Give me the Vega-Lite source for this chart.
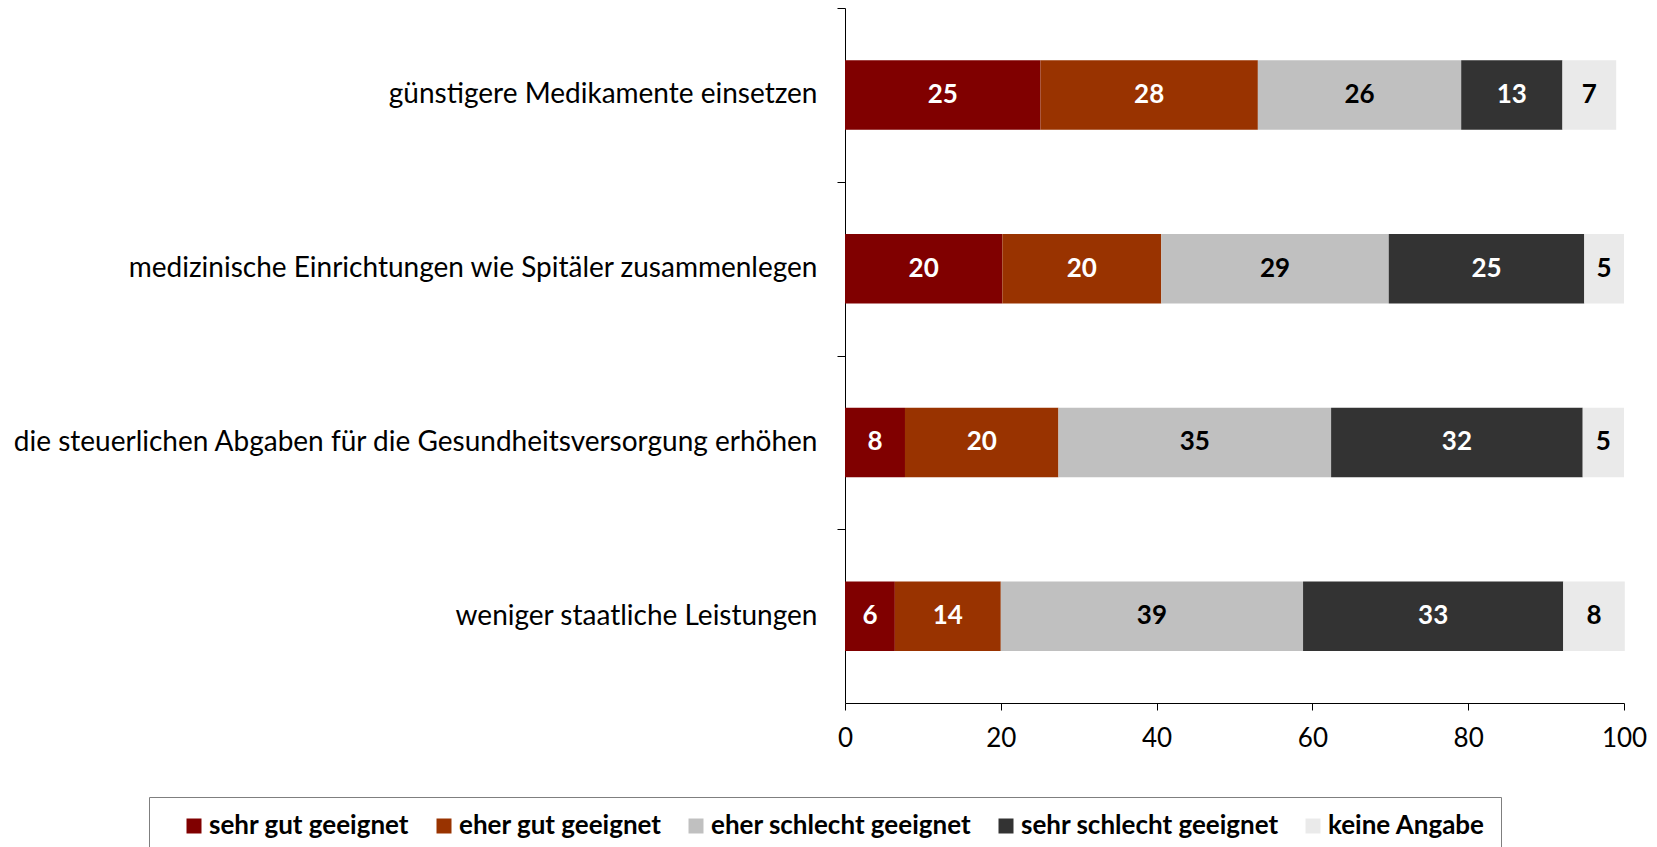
{
  "$schema": "https://vega.github.io/schema/vega-lite/v6.json",
  "width": 779,
  "height": 695,
  "autosize": {"type": "none"},
  "padding": {"left": 845, "top": 8, "right": 33, "bottom": 144},
  "background": "white",
  "config": {"view": {"stroke": null}, "font": "Lato"},
  "data": {
    "values": [
      {"item": "günstigere Medikamente einsetzen", "cat": "sehr gut geeignet", "k": 0, "v": 25.1},
      {"item": "günstigere Medikamente einsetzen", "cat": "eher gut geeignet", "k": 1, "v": 27.9},
      {"item": "günstigere Medikamente einsetzen", "cat": "eher schlecht geeignet", "k": 2, "v": 26.1},
      {"item": "günstigere Medikamente einsetzen", "cat": "sehr schlecht geeignet", "k": 3, "v": 13.0},
      {"item": "günstigere Medikamente einsetzen", "cat": "keine Angabe", "k": 4, "v": 6.9},
      {"item": "medizinische Einrichtungen wie Spitäler zusammenlegen", "cat": "sehr gut geeignet", "k": 0, "v": 20.2},
      {"item": "medizinische Einrichtungen wie Spitäler zusammenlegen", "cat": "eher gut geeignet", "k": 1, "v": 20.4},
      {"item": "medizinische Einrichtungen wie Spitäler zusammenlegen", "cat": "eher schlecht geeignet", "k": 2, "v": 29.2},
      {"item": "medizinische Einrichtungen wie Spitäler zusammenlegen", "cat": "sehr schlecht geeignet", "k": 3, "v": 25.1},
      {"item": "medizinische Einrichtungen wie Spitäler zusammenlegen", "cat": "keine Angabe", "k": 4, "v": 5.1},
      {"item": "die steuerlichen Abgaben für die Gesundheitsversorgung erhöhen", "cat": "sehr gut geeignet", "k": 0, "v": 7.7},
      {"item": "die steuerlichen Abgaben für die Gesundheitsversorgung erhöhen", "cat": "eher gut geeignet", "k": 1, "v": 19.7},
      {"item": "die steuerlichen Abgaben für die Gesundheitsversorgung erhöhen", "cat": "eher schlecht geeignet", "k": 2, "v": 35.0},
      {"item": "die steuerlichen Abgaben für die Gesundheitsversorgung erhöhen", "cat": "sehr schlecht geeignet", "k": 3, "v": 32.3},
      {"item": "die steuerlichen Abgaben für die Gesundheitsversorgung erhöhen", "cat": "keine Angabe", "k": 4, "v": 5.3},
      {"item": "weniger staatliche Leistungen", "cat": "sehr gut geeignet", "k": 0, "v": 6.4},
      {"item": "weniger staatliche Leistungen", "cat": "eher gut geeignet", "k": 1, "v": 13.6},
      {"item": "weniger staatliche Leistungen", "cat": "eher schlecht geeignet", "k": 2, "v": 38.8},
      {"item": "weniger staatliche Leistungen", "cat": "sehr schlecht geeignet", "k": 3, "v": 33.4},
      {"item": "weniger staatliche Leistungen", "cat": "keine Angabe", "k": 4, "v": 7.9}
    ]
  },
  "transform": [
    {"stack": "v", "groupby": ["item"], "sort": [{"field": "k", "order": "ascending"}], "as": ["v0", "v1"]},
    {"calculate": "(datum.v0 + datum.v1) / 2", "as": "vm"}
  ],
  "encoding": {
    "y": {
      "field": "item",
      "type": "nominal",
      "sort": null,
      "scale": {"paddingInner": 0.6, "paddingOuter": 0.3},
      "axis": {
        "title": null,
        "domainColor": "black",
        "tickColor": "black",
        "tickSize": 8,
        "labelFontSize": 28,
        "labelColor": "black",
        "labelPadding": 20,
        "labelLimit": 1200,
        "tickOffset": -86.875,
        "labelOffset": 86.875
      }
    }
  },
  "layer": [
    {
      "mark": {"type": "bar"},
      "encoding": {
        "x": {
          "field": "v0",
          "type": "quantitative",
          "scale": {"domain": [0, 100], "nice": false},
          "axis": {
            "title": null,
            "values": [0, 20, 40, 60, 80, 100],
            "grid": false,
            "domainColor": "black",
            "tickColor": "black",
            "tickSize": 7,
            "labelFontSize": 26,
            "labelColor": "black",
            "labelPadding": 15,
            "labelFlush": false
          }
        },
        "x2": {"field": "v1"},
        "color": {
          "field": "cat",
          "type": "nominal",
          "scale": {
            "domain": ["sehr gut geeignet", "eher gut geeignet", "eher schlecht geeignet", "sehr schlecht geeignet", "keine Angabe"],
            "range": ["#800000", "#993300", "#C0C0C0", "#333333", "#EAEAEA"]
          },
          "legend": {
            "orient": "none",
            "legendX": -696,
            "legendY": 789,
            "direction": "horizontal",
            "title": null,
            "symbolType": "square",
            "symbolSize": 225,
            "symbolStrokeWidth": 0,
            "symbolOffset": 16,
            "labelFontSize": 26,
            "labelFontWeight": "bold",
            "labelColor": "black",
            "labelOffset": 2,
            "columnPadding": 5,
            "strokeColor": "#7f7f7f",
            "padding": 16,
            "labelLimit": 400
          }
        }
      }
    },
    {
      "mark": {"type": "text", "fontWeight": "bold", "fontSize": 26},
      "encoding": {
        "x": {"field": "vm", "type": "quantitative"},
        "text": {"field": "v", "type": "quantitative", "format": ".0f"},
        "color": {"condition": {"test": "datum.k == 2 || datum.k == 4", "value": "black"}, "value": "white"}
      }
    }
  ]
}
